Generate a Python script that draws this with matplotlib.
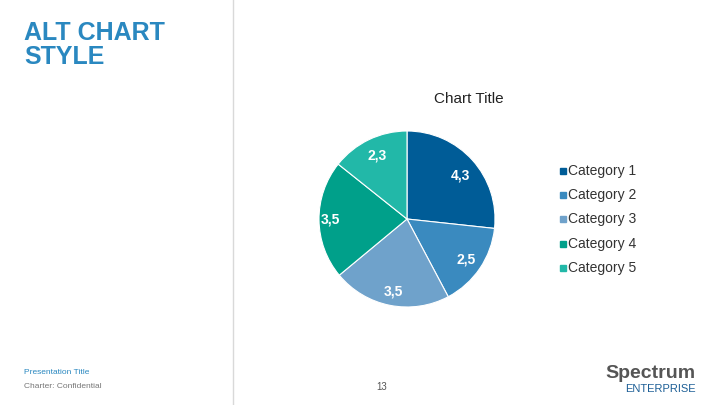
import matplotlib.pyplot as plt

plt.rcParams['font.family'] = ['Liberation Sans', 'DejaVu Sans']

categories = ["Category 1", "Category 2", "Category 3", "Category 4", "Category 5"]
values = [4.3, 2.5, 3.5, 3.5, 2.3]
colors = ["#005c97", "#3a8abf", "#6fa2cb", "#00a08a", "#22b8a8"]

fig = plt.figure(figsize=(7.2, 4.05), dpi=100)
fig.patch.set_facecolor("white")

# header and page furniture
fig.text(24 / 720, 1 - 45 / 405, "ALT CHART\nSTYLE", fontsize=18, fontweight="bold",
         color="#2a88c0", va="center", ha="left", linespacing=0.95)
fig.add_artist(plt.Line2D([233 / 720, 233 / 720], [0, 1], color="#d9d9d9", lw=1))
fig.text(469 / 720, 1 - 99 / 405, "Chart Title", fontsize=11, ha="center", va="center", color="#222222")
fig.text(24 / 720, 1 - 372 / 405, "Presentation Title", fontsize=6, color="#2a88c0", va="center")
fig.text(24 / 720, 1 - 387 / 405, "Charter: Confidential", fontsize=6, color="#777777", va="center")
fig.text(382 / 720, 1 - 387 / 405, "13", fontsize=7, color="#555555", va="center", ha="center")
fig.text(650 / 720, 1 - 373 / 405, "Spectrum", fontsize=14, color="#555555", va="center", ha="center",
         fontweight="bold")
fig.text(660 / 720, 1 - 389 / 405, "ENTERPRISE", fontsize=8, color="#1d5f96", va="center", ha="center")

# pie
cx, cy, r = 407, 219, 88
ax = fig.add_axes([(cx - r) / 720, 1 - (cy + r) / 405, 2 * r / 720, 2 * r / 405])
wedges, texts = ax.pie(values, colors=colors, startangle=90, counterclock=False,
                       wedgeprops=dict(edgecolor="white", linewidth=0.8))
ax.set_aspect("auto")
ax.set_xlim(-1, 1)
ax.set_ylim(-1, 1)

label_pos = [(460, 176), (466, 260), (393, 292), (330, 219), (377, 156)]
for v, (x, y) in zip(values, label_pos):
    fig.text(x / 720, 1 - y / 405, f"{v:.1f}".replace(".", ","), fontsize=10, fontweight="bold",
             ha="center", va="center", color="white")

# legend
for i, (c, col) in enumerate(zip(categories, colors)):
    y = 171 + i * 24.2
    fig.add_artist(plt.Rectangle((560 / 720, 1 - (y + 3) / 405), 6 / 720, 6 / 405, color=col))
    fig.text(568 / 720, 1 - y / 405, c, fontsize=10, va="center", color="#333333")

fig.savefig("out.png", dpi=100)
